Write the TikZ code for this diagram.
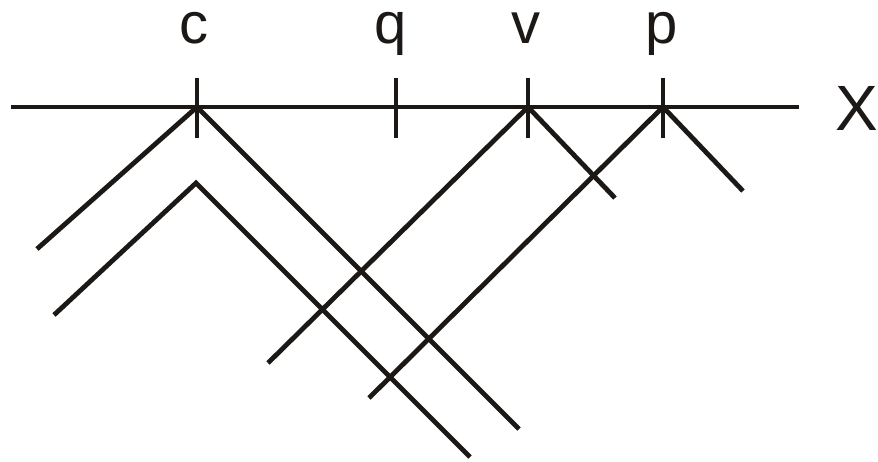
\documentclass[tikz,border=0pt]{standalone}
\usepackage{fontspec}
\setmainfont{Liberation Sans}
\definecolor{ink}{RGB}{28,24,22}
\begin{document}
\begin{tikzpicture}[x=1pt,y=-1pt,
  ray/.style={line width=4.8pt,draw=ink},
  lbl/.style={font=\fontsize{58}{58}\selectfont,anchor=base,inner sep=0pt,
    text height=32pt,text depth=14pt,text=ink}]
\useasboundingbox (0,0) rectangle (878,461);
% axis
\coordinate (a0) at (11,107);
\coordinate (a1) at (799,107);
\draw[ray] (a0) -- (a1);
% points on the axis
\coordinate (c) at (197,107);
\coordinate (q) at (396,107);
\coordinate (v) at (528,107);
\coordinate (p) at (663,107);
\foreach \n in {c,q,v,p}
  \draw[ray] ([yshift=-31pt]\n) -- ([yshift=29pt]\n);
% labels
\node[lbl] (lc) at (194,43) {c};
\node[lbl] (lq) at (391,43) {q};
\node[lbl] (lv) at (526,43) {v};
\node[lbl] (lp) at (662,43) {p};
\node[lbl,font=\fontsize{64}{64}\selectfont,text height=47pt,text depth=0pt] (lx) at (857,130) {X};
% rays from c
\coordinate (c1) at (37,249);
\coordinate (c2) at (519,429);
\draw[ray] (c1) -- (c) -- (c2);
% shifted copy below c
\coordinate (d) at (196,183);
\coordinate (d1) at (54,315);
\coordinate (d2) at (470,457);
\draw[ray] (d1) -- (d) -- (d2);
% rays from v
\coordinate (v1) at (268,363);
\coordinate (v2) at (615,198);
\draw[ray] (v1) -- (v) -- (v2);
% rays from p
\coordinate (p1) at (369,398);
\coordinate (p2) at (743,191);
\draw[ray] (p1) -- (p) -- (p2);
\end{tikzpicture}
\end{document}
